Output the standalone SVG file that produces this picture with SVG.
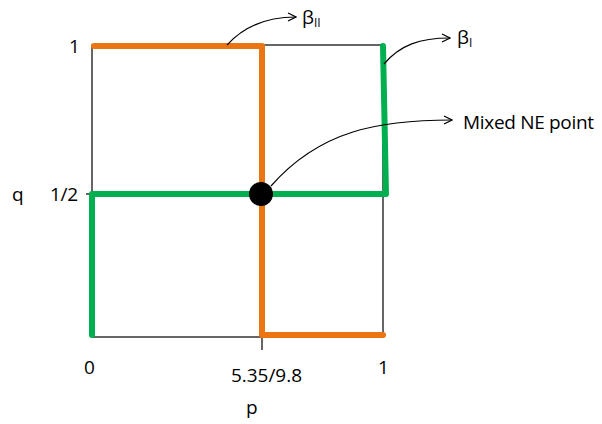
<svg xmlns="http://www.w3.org/2000/svg" width="602" height="424" viewBox="0 0 602 424">
<defs>
<style>
text{font-family:"Open Sans","Liberation Sans",sans-serif;font-size:19px;fill:#000}
.sub{font-size:12px}
.thin{stroke:#000;stroke-width:1.2;fill:none}
.orange{stroke:#EB7413;stroke-width:6;fill:none;stroke-linecap:round;stroke-linejoin:round}
.green{stroke:#00B050;stroke-width:6;fill:none;stroke-linecap:round;stroke-linejoin:round}
.ann{stroke:#000;stroke-width:1.2;fill:none}
</style>
<marker id="open" viewBox="0 0 10 10" refX="9" refY="5" markerWidth="10" markerHeight="10" markerUnits="userSpaceOnUse" orient="auto">
<path d="M1,1 L9,5 L1,9" fill="none" stroke="#000" stroke-width="1.2"/>
</marker>
</defs>
<rect width="602" height="424" fill="#fff"/>
<g id="axes">
<rect x="92" y="45" width="291" height="292" class="thin"/>
<line x1="262" y1="45" x2="262" y2="350" class="thin"/>
<line x1="86" y1="194" x2="92" y2="194" class="thin"/>
</g>
<g id="beta-II-curve">
<path d="M94,46 L262,46 L262,335 L383,335" class="orange"/>
</g>
<g id="beta-I-curve">
<path d="M92,335 L92,194 L386,194 L383,46" class="green"/>
</g>
<g id="mixed-ne">
<circle cx="261" cy="194" r="12" fill="#000"/>
</g>
<g id="connectors">
<path d="M227,45 C245,25 268,17 296,17" class="ann" marker-end="url(#open)"/>
<path d="M384,64 C400,45 420,38 450,38" class="ann" marker-end="url(#open)"/>
<path d="M271,186 C320,130 380,120 452,120" class="ann" marker-end="url(#open)"/>
</g>
<g id="labels">
<text x="69" y="53">1</text>
<text x="50" y="201" textLength="28">1/2</text>
<text x="12" y="201">q</text>
<text x="84" y="374">0</text>
<text x="231" y="382" textLength="71">5.35/9.8</text>
<text x="378" y="374">1</text>
<text x="246" y="414">p</text>
<text x="302" y="24">β<tspan class="sub" dy="3">II</tspan></text>
<text x="457" y="44">β<tspan class="sub" dy="3">I</tspan></text>
<text x="463" y="129" textLength="131">Mixed NE point</text>
</g>
</svg>
